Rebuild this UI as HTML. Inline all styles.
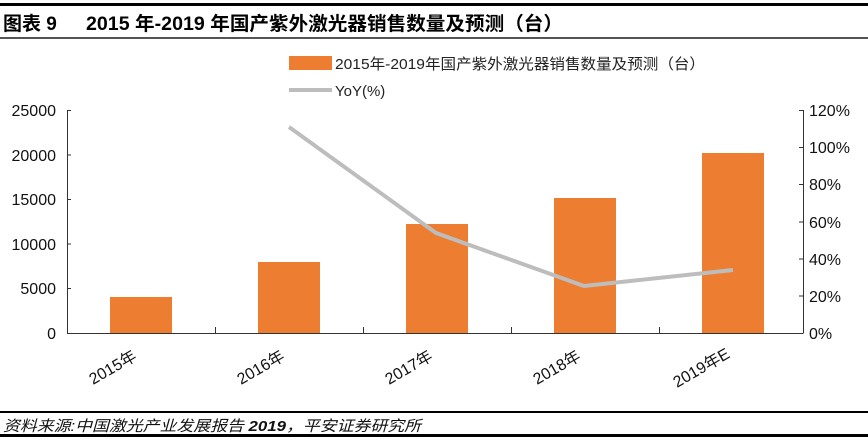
<!DOCTYPE html>
<html><head><meta charset="utf-8"><style>
body{margin:0;background:#fff;width:868px;height:445px;overflow:hidden}
svg{display:block}
text{font-family:"Liberation Sans","Noto Sans CJK SC",sans-serif}
</style></head><body>
<svg width="868" height="445" viewBox="0 0 868 445">
<rect x="0" y="3" width="868" height="3" fill="#000"/>
<text x="3" y="30" font-size="19" font-weight="bold" fill="#000">图表 9</text>
<text x="86" y="30" font-size="19" font-weight="bold" fill="#000" textLength="477" lengthAdjust="spacingAndGlyphs">2015 年-2019 年国产紫外激光器销售数量及预测（台）</text>
<rect x="0" y="37" width="868" height="2" fill="#555"/>
<!-- legend -->
<rect x="289" y="56" width="43" height="14" fill="#ED7D31"/>
<text x="335" y="69" font-size="15" fill="#222" textLength="370" lengthAdjust="spacingAndGlyphs">2015年-2019年国产紫外激光器销售数量及预测（台）</text>
<rect x="289" y="88" width="43" height="4" fill="#BDBDBD"/>
<text x="335" y="96" font-size="15" fill="#222">YoY(%)</text>
<!-- left axis -->
<g font-size="16" fill="#111" text-anchor="end">
<text x="56" y="116">25000</text><text x="56" y="161">20000</text><text x="56" y="205">15000</text>
<text x="56" y="250">10000</text><text x="56" y="294">5000</text><text x="56" y="339">0</text>
</g>
<g stroke="#333" stroke-width="1" fill="none">
<path d="M67.5 110V333.5M67 110.5H71M67 155H71M67 199.5H71M67 244H71M67 288.5H71"/>
<path d="M803.5 110V333.5M803 110.5H799M803 147.5H799M803 184.5H799M803 222H799M803 259H799M803 296H799"/>
<path d="M67 333.5H803M215.5 333V327M363.5 333V327M511.5 333V327M659.5 333V327"/>
</g>
<g font-size="16" fill="#111">
<text x="809" y="116">120%</text><text x="809" y="153">100%</text><text x="809" y="190">80%</text>
<text x="809" y="228">60%</text><text x="809" y="265">40%</text><text x="809" y="302">20%</text><text x="809" y="339">0%</text>
</g>
<!-- bars -->
<g fill="#ED7D31">
<rect x="110" y="297" width="62" height="36"/>
<rect x="258" y="262" width="62" height="71"/>
<rect x="406" y="224" width="62" height="109"/>
<rect x="554" y="198" width="62" height="135"/>
<rect x="702" y="153" width="62" height="180"/>
</g>
<polyline points="289,127 436,233 584,286 733,270" fill="none" stroke="#BDBDBD" stroke-width="4" stroke-linejoin="round"/>
<!-- x labels -->
<g font-size="16" fill="#111">
<text transform="translate(93,385) rotate(-30)">2015年</text>
<text transform="translate(241,385) rotate(-30)">2016年</text>
<text transform="translate(389,385) rotate(-30)">2017年</text>
<text transform="translate(537,385) rotate(-30)">2018年</text>
<text transform="translate(677,388) rotate(-30)">2019年E</text>
</g>
<rect x="0" y="411" width="868" height="2" fill="#000"/>
<text x="3" y="431" font-size="15" font-style="italic" fill="#111" textLength="418" lengthAdjust="spacingAndGlyphs">资料来源:中国激光产业发展报告 <tspan font-weight="bold">2019</tspan>，平安证券研究所</text>
<rect x="0" y="434" width="868" height="3" fill="#000"/>
</svg>
</body></html>
